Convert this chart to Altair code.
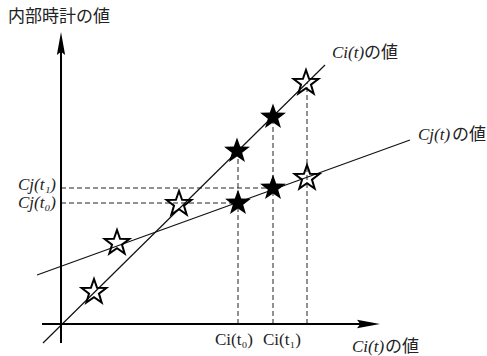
import math
import altair as alt
import pandas as pd

# ---------------- data (diagram units, origin at the axes' crossing) -------------
ci_line_u = [-18, 264]
ci_line_v = [-19, 259]
cj_line_u = [-24, 349]
cj_line_v = [49, 184]

hollow_u = [33, 56, 118, 246, 245]
hollow_v = [32, 81, 120, 146, 241]
filled_u = [176, 212, 177, 212]
filled_v = [173, 207, 121, 136]

guide_x = [177, 212, 246]          # vertical dashed guides (Ci(t0), Ci(t1), ...)
guide_x_top = [173, 207, 241]
guide_y = [121, 136]               # horizontal dashed guides (Cj(t0), Cj(t1))
guide_y_right = [177, 212]

x_axis_u = [-19, 300]
y_axis_v = [-19, 272]
x_arrow_tip = [319, 0]
y_arrow_tip = [0, 292]

title_text = "内部時計の値"
jp_suffix = "の値"
line_labels = ["Ci(t)", "Cj(t)"]
line_label_u = [271, 357]
line_label_v = [266, 184]
line_suffix_u = [303, 391]

left_labels = ["Cj(t₁)", "Cj(t₀)"]
left_label_v = [139, 121]
bottom_labels = ["Ci(t₀)", "Ci(t₁)"]
bottom_label_u = [173, 221]
axis_label = "Ci(t)"

# ---------------- scales ---------------------------------------------------------
W, H = 487, 356
xs = alt.Scale(domain=[-61, 426], nice=False, zero=False)
ys = alt.Scale(domain=[-32, 324], nice=False, zero=False)
X = lambda f: alt.X(f, type="quantitative", scale=xs, axis=None)
Y = lambda f: alt.Y(f, type="quantitative", scale=ys, axis=None)


def star_path(R=1.0, r=0.4):
    pts = []
    for k in range(10):
        a = -math.pi / 2 + k * math.pi / 5
        rad = R if k % 2 == 0 else r
        pts.append(f"{rad*math.cos(a):.4f},{rad*math.sin(a):.4f}")
    return "M" + "L".join(pts) + "Z"


STAR = star_path()
ARROW_RIGHT = "M0,0L-2,-0.36L-1.72,0L-2,0.36Z"
ARROW_UP = "M0,0L-0.36,2L0,1.72L0.36,2Z"

# lines
seg = pd.DataFrame({
    "u": [ci_line_u[0], cj_line_u[0]], "v": [ci_line_v[0], cj_line_v[0]],
    "u2": [ci_line_u[1], cj_line_u[1]], "v2": [ci_line_v[1], cj_line_v[1]],
})
lines = alt.Chart(seg).mark_rule(color="#111", strokeWidth=1.2).encode(
    x=X("u"), y=Y("v"), x2="u2", y2="v2")

# axes
axes_df = pd.DataFrame({
    "u": [x_axis_u[0], 0], "v": [0, y_axis_v[0]],
    "u2": [x_axis_u[1], 0], "v2": [0, y_axis_v[1]],
})
axes = alt.Chart(axes_df).mark_rule(color="#000", strokeWidth=2).encode(
    x=X("u"), y=Y("v"), x2="u2", y2="v2")

arr_r = alt.Chart(pd.DataFrame({"u": [x_arrow_tip[0]], "v": [x_arrow_tip[1]]})).mark_point(
    shape=ARROW_RIGHT, filled=True, color="#000", size=529, opacity=1).encode(x=X("u"), y=Y("v"))
arr_u = alt.Chart(pd.DataFrame({"u": [y_arrow_tip[0]], "v": [y_arrow_tip[1]]})).mark_point(
    shape=ARROW_UP, filled=True, color="#000", size=529, opacity=1).encode(x=X("u"), y=Y("v"))

# dashed guides
gv = pd.DataFrame({"u": guide_x, "v": [0] * len(guide_x), "u2": guide_x, "v2": guide_x_top})
gh = pd.DataFrame({"u": [0] * len(guide_y), "v": guide_y, "u2": guide_y_right, "v2": guide_y})
dash_v = alt.Chart(gv).mark_rule(color="#222", strokeWidth=1, strokeDash=[5, 3]).encode(
    x=X("u"), y=Y("v"), x2="u2", y2="v2")
dash_h = alt.Chart(gh).mark_rule(color="#222", strokeWidth=1, strokeDash=[5, 3]).encode(
    x=X("u"), y=Y("v"), x2="u2", y2="v2")

# stars
hollow = alt.Chart(pd.DataFrame({"u": hollow_u, "v": hollow_v})).mark_point(
    shape=STAR, filled=False, stroke="#000", strokeWidth=2, size=676, opacity=1).encode(
    x=X("u"), y=Y("v"))
filled = alt.Chart(pd.DataFrame({"u": filled_u, "v": filled_v})).mark_point(
    shape=STAR, filled=True, color="#000", size=740, opacity=1).encode(
    x=X("u"), y=Y("v"))

JP = "Noto Sans CJK JP"
SERIF = "Liberation Serif"

title = alt.Chart(pd.DataFrame({"t": [title_text], "u": [-53], "v": [307]})).mark_text(
    font=JP, fontSize=17, align="left", baseline="middle", color="#222").encode(
    x=X("u"), y=Y("v"), text="t:N")

ll = pd.DataFrame({"t": line_labels, "u": line_label_u, "v": [x + 5 for x in line_label_v]})
ll_serif = alt.Chart(ll).mark_text(
    font=SERIF, fontStyle="italic", fontSize=17, align="left", baseline="middle", color="#222").encode(
    x=X("u"), y=Y("v"), text="t:N")
ls = pd.DataFrame({"t": [jp_suffix] * 3, "u": line_suffix_u + [324],
                   "v": [x + 5 for x in line_label_v] + [-23]})
ll_jp = alt.Chart(ls).mark_text(
    font=JP, fontSize=17, align="left", baseline="middle", color="#222").encode(
    x=X("u"), y=Y("v"), text="t:N")

left = alt.Chart(pd.DataFrame({"t": left_labels, "u": [-5, -5], "v": left_label_v})).mark_text(
    font=SERIF, fontStyle="italic", fontSize=17, align="right", baseline="middle", color="#222").encode(
    x=X("u"), y=Y("v"), text="t:N")
bottom = alt.Chart(pd.DataFrame({"t": bottom_labels, "u": bottom_label_u, "v": [-16, -16]})).mark_text(
    font=SERIF, fontStyle="normal", fontSize=17, align="center", baseline="middle", color="#222").encode(
    x=X("u"), y=Y("v"), text="t:N")
xlab = alt.Chart(pd.DataFrame({"t": [axis_label], "u": [291], "v": [-23]})).mark_text(
    font=SERIF, fontStyle="italic", fontSize=17, align="left", baseline="middle", color="#222").encode(
    x=X("u"), y=Y("v"), text="t:N")

chart = alt.layer(
    dash_v, dash_h, lines, axes, arr_r, arr_u, hollow, filled,
    title, ll_serif, ll_jp, left, bottom, xlab,
).properties(width=W, height=H, autosize="none", padding=0, background="white"
).configure_view(stroke=None)

chart.save("out.html", embed_options={"renderer": "svg", "actions": False})
